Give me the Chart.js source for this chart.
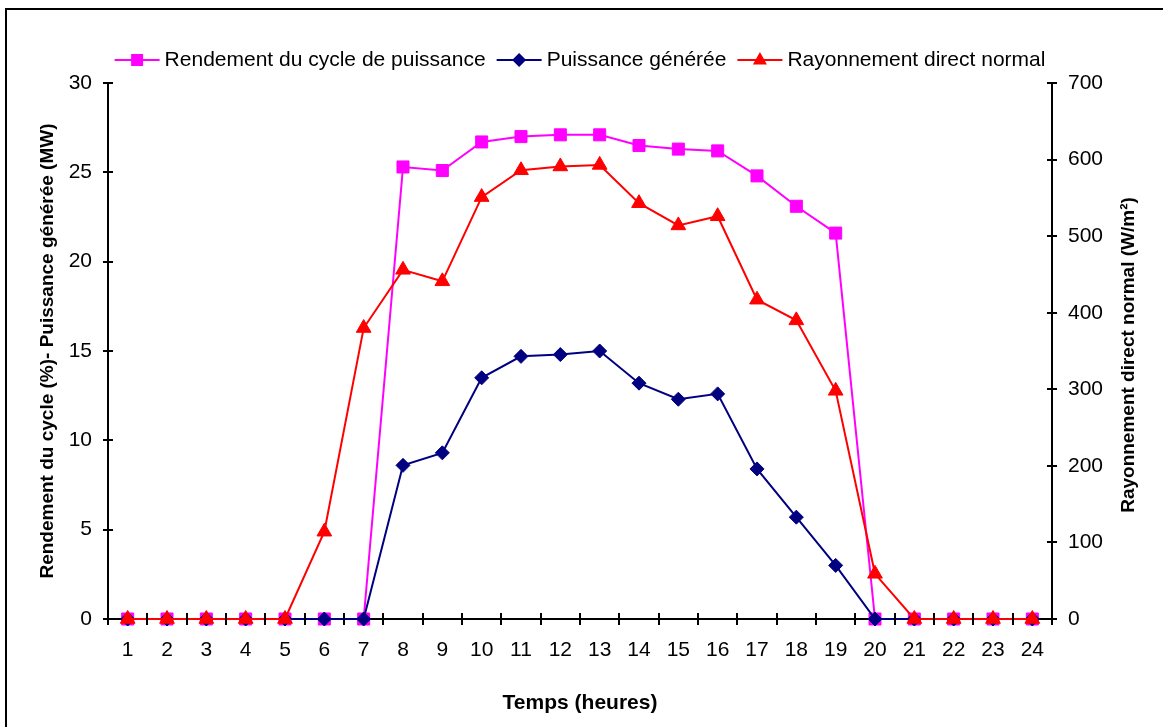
<!DOCTYPE html>
<html>
<head>
<meta charset="utf-8">
<script src="https://cdn.jsdelivr.net/npm/chart.js@4.4.1/dist/chart.umd.min.js"></script>
<style>
  html, body { margin: 0; padding: 0; background: #fff; }
</style>
</head>
<body>
<canvas id="graphe" width="1163" height="727"></canvas>
<script>
// heures de la journée
var heures = ["1","2","3","4","5","6","7","8","9","10","11","12","13","14","15","16","17","18","19","20","21","22","23","24"];

// rendement du cycle (%)
var rendement = [0,0,0,0,0,0,0,25.3,25.1,26.7,27.0,27.1,27.1,26.5,26.3,26.2,24.8,23.1,21.6,0,0,0,0,0];
// puissance générée (MW)
var puissance = [0,0,0,0,0,0,0,8.6,9.3,13.5,14.7,14.8,15.0,13.2,12.3,12.6,8.4,5.7,3.0,0,0,0,0,0];
// rayonnement direct normal (W/m²)
var rayonnement = [0,0,0,0,0,114,380,456,441,551,586,591,593,543,514,526,417,390,298,59,0,0,0,0];

// graduations des deux axes verticaux
var ticksGauche = [0,5,10,15,20,25,30];
var ticksDroite = [0,100,200,300,400,500,600,700];

var police = "'Liberation Sans', Arial, sans-serif";

// cadre autour du graphique
var cadre = {
  id: 'cadre',
  beforeDraw: function(chart) {
    var ctx = chart.ctx;
    ctx.save();
    ctx.fillStyle = '#fff';
    ctx.fillRect(0, 0, chart.width, chart.height);
    ctx.restore();
  },
  afterDraw: function(chart) {
    var ctx = chart.ctx;
    ctx.save();
    ctx.strokeStyle = '#000';
    ctx.lineWidth = 2;
    ctx.strokeRect(6, 9, chart.width + 20, chart.height + 20);
    ctx.restore();
  }
};

// petits traits qui traversent les axes
var graduations = {
  id: 'graduations',
  afterDatasetsDraw: function(chart) {
    var ctx = chart.ctx;
    ctx.save();
    ctx.strokeStyle = '#000';
    ctx.lineWidth = 2;
    ctx.beginPath();
    var y = chart.scales.y, y2 = chart.scales.y2, x = chart.scales.x;
    y.ticks.forEach(function(t) {
      var p = Math.round(y.getPixelForValue(t.value));
      ctx.moveTo(y.right - 5, p); ctx.lineTo(y.right + 5, p);
    });
    y2.ticks.forEach(function(t) {
      var p = Math.round(y2.getPixelForValue(t.value));
      ctx.moveTo(y2.left - 5, p); ctx.lineTo(y2.left + 5, p);
    });
    for (var i = 0; i <= heures.length; i++) {
      var px = Math.round(x.getPixelForValue(i - 0.5));
      ctx.moveTo(px, x.top - 6); ctx.lineTo(px, x.top + 6);
    }
    ctx.stroke();
    ctx.restore();
  }
};

// titre de l'axe de droite, écrit de bas en haut comme celui de gauche
var titreDroite = {
  id: 'titreDroite',
  afterDraw: function(chart) {
    var s = chart.scales.y2;
    var ctx = chart.ctx;
    ctx.save();
    ctx.translate(1129, (s.top + s.bottom) / 2 + 4);
    ctx.rotate(-Math.PI / 2);
    ctx.font = 'bold 19px ' + police;
    ctx.fillStyle = '#000';
    ctx.textAlign = 'center';
    ctx.textBaseline = 'middle';
    ctx.fillText('Rayonnement direct normal (W/m²)', 0, 0);
    ctx.restore();
  }
};

function marqueur(ctx, style, cx, cy, couleur) {
  ctx.fillStyle = couleur;
  ctx.beginPath();
  if (style === 'rect') {
    ctx.rect(cx - 6, cy - 6, 12, 12);
  } else if (style === 'rectRot') {
    ctx.moveTo(cx - 7, cy); ctx.lineTo(cx, cy - 7); ctx.lineTo(cx + 7, cy); ctx.lineTo(cx, cy + 7);
  } else {
    ctx.moveTo(cx, cy - 8); ctx.lineTo(cx + 7, cy + 4.5); ctx.lineTo(cx - 7, cy + 4.5);
  }
  ctx.closePath();
  ctx.fill();
}

// légende en haut : trait + marqueur + libellé
var legende = {
  id: 'legende',
  afterDraw: function(chart) {
    var ctx = chart.ctx;
    var ds = chart.data.datasets;
    ctx.save();
    ctx.font = '21px ' + police;
    ctx.textBaseline = 'middle';
    var largeurs = ds.map(function(d) { return 45 + 5 + ctx.measureText(d.label).width; });
    var ecart = 11;
    var total = largeurs.reduce(function(a, b) { return a + b; }, 0) + ecart * (ds.length - 1);
    var centre = (chart.chartArea.left + chart.chartArea.right) / 2;
    var x = centre - total / 2;
    var yl = 60;
    ds.forEach(function(d, i) {
      ctx.strokeStyle = d.borderColor;
      ctx.lineWidth = 2;
      ctx.beginPath();
      ctx.moveTo(x, yl); ctx.lineTo(x + 45, yl);
      ctx.stroke();
      marqueur(ctx, d.pointStyle, x + 22.5, yl, d.borderColor);
      ctx.fillStyle = '#000';
      ctx.fillText(d.label, x + 50, yl);
      x += largeurs[i] + ecart;
    });
    ctx.restore();
  }
};

new Chart(document.getElementById('graphe'), {
  type: 'line',
  data: {
    labels: heures,
    datasets: [
      {
        label: 'Rendement du cycle de puissance',
        data: rendement,
        yAxisID: 'y',
        borderColor: '#FF00FF',
        backgroundColor: '#FF00FF',
        borderWidth: 2,
        pointStyle: 'rect',
        pointRadius: 8.5,
        pointBorderWidth: 1,
        order: 3,
        clip: false
      },
      {
        label: 'Puissance générée',
        data: puissance,
        yAxisID: 'y',
        borderColor: '#000080',
        backgroundColor: '#000080',
        borderWidth: 2,
        pointStyle: 'rectRot',
        pointRadius: 7,
        pointBorderWidth: 1,
        order: 2,
        clip: false
      },
      {
        label: 'Rayonnement direct normal',
        data: rayonnement,
        yAxisID: 'y2',
        borderColor: '#FF0000',
        backgroundColor: '#FF0000',
        borderWidth: 2,
        pointStyle: 'triangle',
        pointRadius: 8.5,
        pointBorderWidth: 1,
        order: 1,
        clip: false
      }
    ]
  },
  options: {
    responsive: false,
    animation: false,
    layout: { padding: { top: 83, left: 0, right: 0, bottom: 0 } },
    plugins: {
      legend: { display: false },
      tooltip: { enabled: false }
    },
    scales: {
      x: {
        offset: true,
        grid: { display: false, drawTicks: false },
        border: { display: true, color: '#000', width: 2 },
        ticks: { color: '#000', font: { family: police, size: 21 }, padding: 19, maxRotation: 0, autoSkip: false },
        title: { display: true, text: 'Temps (heures)', color: '#000', font: { family: police, size: 21, weight: 'bold' }, padding: { top: 0, bottom: 11 } },
        afterFit: function(s) { s.height = 727 - 619; }
      },
      y: {
        position: 'left',
        min: ticksGauche[0],
        max: ticksGauche[ticksGauche.length - 1],
        grid: { display: false, drawTicks: false },
        border: { display: true, color: '#000', width: 2 },
        ticks: { stepSize: ticksGauche[1] - ticksGauche[0], color: '#000', font: { family: police, size: 21 }, padding: 16 },
        title: { display: true, text: 'Rendement du cycle (%)- Puissance générée (MW)', color: '#000', font: { family: police, size: 19, weight: 'bold' }, padding: { top: 36, bottom: 0 } },
        afterFit: function(s) { s.width = 108; }
      },
      y2: {
        position: 'right',
        min: ticksDroite[0],
        max: ticksDroite[ticksDroite.length - 1],
        grid: { display: false, drawTicks: false },
        border: { display: true, color: '#000', width: 2 },
        ticks: { stepSize: ticksDroite[1] - ticksDroite[0], color: '#000', font: { family: police, size: 21 }, padding: 16 },
        title: { display: false },
        afterFit: function(s) { s.width = 1163 - 1052; }
      }
    }
  },
  plugins: [cadre, graduations, titreDroite, legende]
});
</script>
</body>
</html>
